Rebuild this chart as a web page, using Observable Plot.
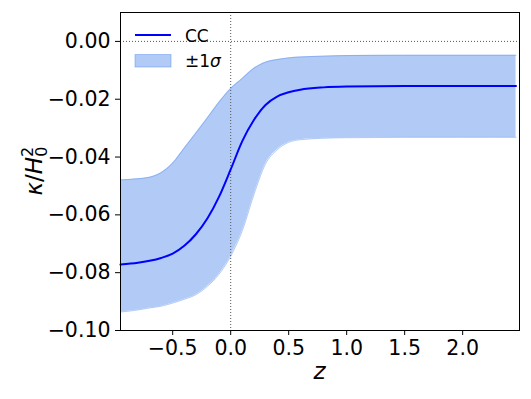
<!DOCTYPE html>
<html><head><meta charset="utf-8">
<script src="https://cdn.jsdelivr.net/npm/d3@7"></script>
<script src="https://cdn.jsdelivr.net/npm/@observablehq/plot@0.6"></script>
<style>body{margin:0;background:#fff}</style>
</head><body><div id="chart"></div>
<script>
// data
const z  = [-0.95, -0.8, -0.7, -0.6, -0.5, -0.4, -0.3, -0.2, -0.1, 0, 0.1, 0.2, 0.3, 0.4, 0.5, 0.6, 0.8, 1.0, 1.5, 2.0, 2.46];
const cc = [-0.0772, -0.0766, -0.0759, -0.0749, -0.0734, -0.0707, -0.0667, -0.0612, -0.0537, -0.0443, -0.0345, -0.0272, -0.0220, -0.0191, -0.0176, -0.0167, -0.0159, -0.0156, -0.0154, -0.0154, -0.0154];
const hi = [-0.0479, -0.0475, -0.0470, -0.0454, -0.0421, -0.0369, -0.0317, -0.0264, -0.0210, -0.0163, -0.0128, -0.0093, -0.0072, -0.0063, -0.0057, -0.0054, -0.0051, -0.0049, -0.0048, -0.0048, -0.0048];
const lo = [-0.0936, -0.0929, -0.0922, -0.0916, -0.0905, -0.0892, -0.0876, -0.0847, -0.0805, -0.0743, -0.0655, -0.0530, -0.0424, -0.0375, -0.0349, -0.0340, -0.0335, -0.0333, -0.0332, -0.0332, -0.0332];
const xTicks = [-0.5, 0, 0.5, 1, 1.5, 2];
const yTicks = [-0.10, -0.08, -0.06, -0.04, -0.02, 0];
const legendLabels = ["CC", "±1σ"];
const xDomain = [-0.95, 2.49];
const yDomain = [-0.10, 0.01];

const data = z.map((v, i) => ({z: v, cc: cc[i], hi: hi[i], lo: lo[i]}));
const W = 531, H = 399, mL = 120, mR = 12, mT = 12, mB = 69;
const band = "cornflowerblue";

const plot = Plot.plot({
  width: W, height: H,
  marginLeft: mL, marginRight: mR, marginTop: mT, marginBottom: mB,
  style: {fontFamily: "DejaVu Sans", fontSize: "20.5px", color: "black", background: "white"},
  x: {domain: xDomain},
  y: {domain: yDomain},
  marks: [
    Plot.areaY(data, {x: "z", y1: "lo", y2: "hi", fill: band, fillOpacity: 0.5, curve: "monotone-x"}),
    Plot.line(data, {x: "z", y: "hi", stroke: band, strokeOpacity: 0.5, strokeWidth: 1, curve: "monotone-x"}),
    Plot.line(data, {x: "z", y: "lo", stroke: band, strokeOpacity: 0.5, strokeWidth: 1, curve: "monotone-x"}),
    Plot.ruleX([0], {stroke: "#555", strokeWidth: 1, strokeDasharray: "1,2"}),
    Plot.ruleY([0], {stroke: "#555", strokeWidth: 1, strokeDasharray: "1,2"}),
    Plot.line(data, {x: "z", y: "cc", stroke: "blue", strokeWidth: 2, curve: "monotone-x"}),
    Plot.frame({stroke: "black", strokeWidth: 1}),
    Plot.axisX({ticks: xTicks, tickFormat: d3.format(".1f"), tickSize: 5, tickPadding: 5, label: null}),
    Plot.axisY({ticks: yTicks, tickFormat: d3.format(".2f"), tickSize: 5, tickPadding: 5, label: null})
  ]
});
document.getElementById("chart").appendChild(plot);

const svg = d3.select(plot);
const cx = mL + (W - mL - mR) / 2, cy = mT + (H - mT - mB) / 2;

// x label
svg.append("text").attr("x", cx).attr("y", H - 20)
  .attr("text-anchor", "middle").attr("font-size", 23).attr("font-style", "italic")
  .attr("font-family", "DejaVu Sans").attr("fill", "black").text("z");

// y label κ/H_0^2
const yl = svg.append("text")
  .attr("transform", `translate(42,${cy}) rotate(-90)`)
  .attr("text-anchor", "middle").attr("font-size", 23)
  .attr("font-family", "DejaVu Sans").attr("fill", "black");
yl.append("tspan").attr("font-style", "italic").text("κ");
yl.append("tspan").text("/");
yl.append("tspan").attr("font-style", "italic").text("H");
yl.append("tspan").attr("font-size", 16).attr("dy", -9).text("2");
yl.append("tspan").attr("font-size", 16).attr("dx", -10).attr("dy", 14).text("0");

// legend
const lg = svg.append("g").attr("font-family", "DejaVu Sans").attr("font-size", 17).attr("text-anchor", "start");
lg.append("line").attr("x1", 135).attr("x2", 171).attr("y1", 35).attr("y2", 35)
  .attr("stroke", "blue").attr("stroke-width", 2);
lg.append("text").attr("x", 185).attr("y", 41.5).attr("text-anchor", "start").attr("fill", "black").text(legendLabels[0]);
lg.append("rect").attr("x", 135).attr("y", 54.5).attr("width", 36).attr("height", 12.5)
  .attr("fill", band).attr("fill-opacity", 0.5).attr("stroke", band).attr("stroke-opacity", 0.5);
const t2 = lg.append("text").attr("x", 185).attr("y", 67).attr("text-anchor", "start").attr("fill", "black");
t2.append("tspan").text("±1");
t2.append("tspan").attr("font-style", "italic").text("σ");
</script></body></html>
